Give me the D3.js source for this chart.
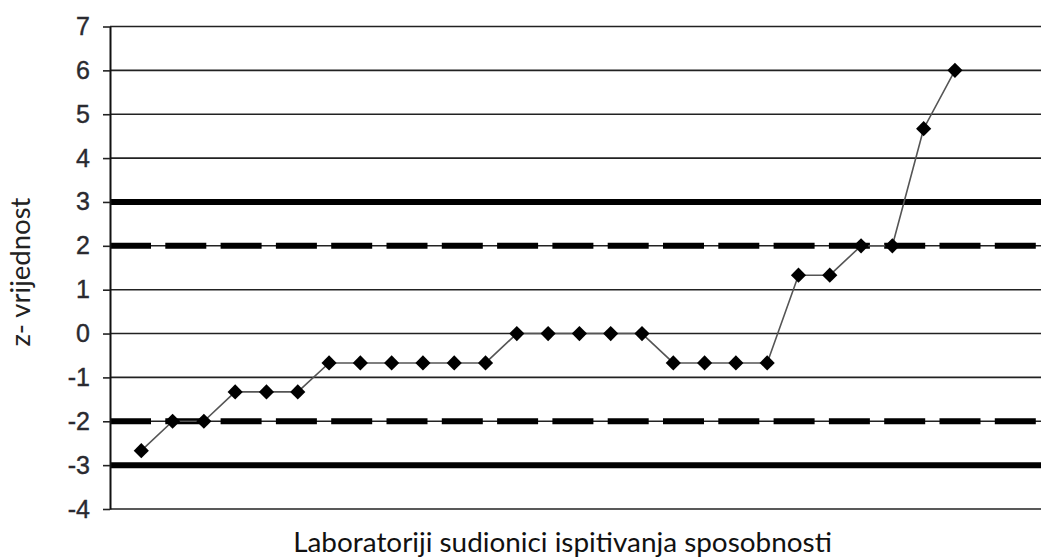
<!DOCTYPE html>
<html>
<head>
<meta charset="utf-8">
<script src="https://cdn.jsdelivr.net/npm/d3@7"></script>
<style>
  body { margin: 0; background: #fff; }
  svg { display: block; }
</style>
</head>
<body>
<div id="chart"></div>
<script>
// z-scores per participating lab, sorted
const labs = [1, 2, 3, 4, 5, 6, 7, 8, 9, 10, 11, 12, 13, 14, 15, 16, 17, 18, 19, 20, 21, 22, 23, 24, 25, 26, 27];
const zValues = [-2.67, -2, -2, -1.33, -1.33, -1.33, -0.67, -0.67, -0.67, -0.67, -0.67, -0.67,
  0, 0, 0, 0, 0, -0.67, -0.67, -0.67, -0.67, 1.33, 1.33, 2, 2, 4.67, 6];
const yTicks = [-4, -3, -2, -1, 0, 1, 2, 3, 4, 5, 6, 7];
const actionLimits = [-3, 3];   // solid thick lines
const warningLimits = [-2, 2];  // dashed thick lines
const yTitle = 'z- vrijednost';
const xTitle = 'Laboratoriji sudionici ispitivanja sposobnosti';

const width = 1041, height = 559;
const margin = { top: 26.5, right: 0, bottom: 50, left: 110 };

const svg = d3.select('#chart').append('svg')
  .attr('width', width)
  .attr('height', height);

const x = d3.scaleLinear().domain([0, 29.75]).range([margin.left, width - margin.right]);
const y = d3.scaleLinear().domain([-4, 7]).range([height - margin.bottom, margin.top]);

// Gridlines
svg.append('g').selectAll('line')
  .data(yTicks)
  .enter().append('line')
  .attr('x1', margin.left)
  .attr('x2', width)
  .attr('y1', d => y(d))
  .attr('y2', d => y(d))
  .attr('stroke', '#222')
  .attr('stroke-width', 1.6);

// Warning limits (dashed)
svg.append('g').selectAll('line')
  .data(warningLimits)
  .enter().append('line')
  .attr('x1', margin.left)
  .attr('x2', width)
  .attr('y1', d => y(d))
  .attr('y2', d => y(d))
  .attr('stroke', '#000')
  .attr('stroke-width', 6)
  .attr('stroke-dasharray', '41,14.3');

// Action limits (solid)
svg.append('g').selectAll('line')
  .data(actionLimits)
  .enter().append('line')
  .attr('x1', margin.left)
  .attr('x2', width)
  .attr('y1', d => y(d))
  .attr('y2', d => y(d))
  .attr('stroke', '#000')
  .attr('stroke-width', 6);

// Y axis
const yAxis = d3.axisLeft(y)
  .tickValues(yTicks)
  .tickSize(7)
  .tickSizeOuter(0)
  .tickPadding(13)
  .tickFormat(d => String(d));

const ay = svg.append('g')
  .attr('transform', `translate(${margin.left},0)`)
  .call(yAxis);
ay.select('.domain').attr('stroke', '#111').attr('stroke-width', 2);
ay.selectAll('.tick line').attr('stroke', '#222').attr('stroke-width', 1.6);
ay.selectAll('.tick text')
  .style('font-family', '"Liberation Sans", Arial, sans-serif')
  .style('font-size', '25px')
  .attr('fill', '#2a2a30')
  .attr('stroke', '#2a2a30')
  .attr('stroke-width', 0.4);

// Series line
const line = d3.line()
  .x((d, i) => x(labs[i]))
  .y(d => y(d));

svg.append('path')
  .datum(zValues)
  .attr('fill', 'none')
  .attr('stroke', '#555')
  .attr('stroke-width', 1.6)
  .attr('d', line);

// Diamond markers
const diamond = d3.symbol().type(d3.symbolSquare).size(115);
svg.append('g').selectAll('path')
  .data(zValues)
  .enter().append('path')
  .attr('d', diamond)
  .attr('transform', (d, i) => `translate(${x(labs[i])},${y(d)}) rotate(45)`)
  .attr('fill', '#000');

// Axis titles
const yt = svg.append('text')
  .attr('transform', 'translate(30,272) rotate(-90)')
  .attr('text-anchor', 'middle')
  .style('font-family', 'Lato, "Open Sans", sans-serif')
  .style('font-size', '26px')
  .attr('fill', '#222')
  .text(yTitle);
const wy = yt.node().getComputedTextLength();
yt.style('font-size', (26 * 149 / wy) + 'px');

const xt = svg.append('text')
  .attr('x', 562.5)
  .attr('y', 552)
  .attr('text-anchor', 'middle')
  .style('font-family', 'Lato, "Open Sans", sans-serif')
  .style('font-size', '26px')
  .attr('fill', '#111')
  .text(xTitle);
// fit title width to the reference span
const wx = xt.node().getComputedTextLength();
xt.style('font-size', (26 * 539 / wx) + 'px');
</script>
</body>
</html>
